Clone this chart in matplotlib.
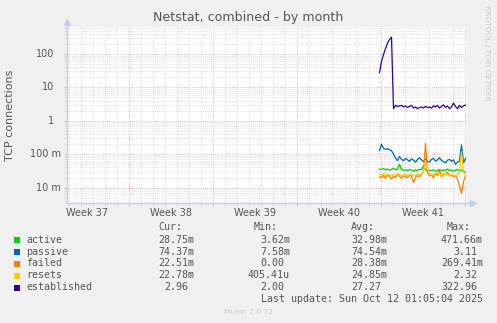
import numpy as np
from matplotlib import pyplot as plt
from matplotlib.patches import Rectangle
from matplotlib.ticker import LogLocator, FixedLocator, NullFormatter

W, H = 497, 323

# time axis: days relative to the Week 41 boundary, one sample every 4 hours
t_start = -0.125
t_step = 1 / 6

active = [0.036, 0.035, 0.037, 0.034, 0.036, 0.033, 0.035, 0.038, 0.034, 0.036, 0.05,
          0.035, 0.033, 0.034, 0.032, 0.035, 0.033, 0.031, 0.034, 0.032, 0.036, 0.034,
          0.045, 0.035, 0.031, 0.033, 0.032, 0.034, 0.031, 0.033, 0.035, 0.032, 0.034,
          0.033, 0.036, 0.032, 0.034, 0.031, 0.033, 0.035, 0.032, 0.034, 0.030, 0.029]
passive = [0.128, 0.20, 0.15, 0.14, 0.145, 0.135, 0.128, 0.10, 0.077, 0.064, 0.086,
           0.07, 0.064, 0.075, 0.068, 0.061, 0.073, 0.066, 0.058, 0.07, 0.078, 0.068,
           0.06, 0.072, 0.061, 0.058, 0.07, 0.075, 0.062, 0.068, 0.078, 0.065, 0.06,
           0.055, 0.066, 0.07, 0.061, 0.068, 0.05, 0.058, 0.062, 0.19, 0.055, 0.074]
failed = [0.021, 0.02, 0.023, 0.019, 0.024, 0.021, 0.018, 0.022, 0.02, 0.025, 0.022,
          0.019, 0.023, 0.021, 0.02, 0.024, 0.022, 0.014, 0.02, 0.023, 0.021, 0.025,
          0.03, 0.21, 0.028, 0.022, 0.024, 0.02, 0.027, 0.023, 0.034, 0.021, 0.026,
          0.024, 0.029, 0.022, 0.025, 0.021, 0.023, 0.018, 0.011, 0.0068, 0.015, 0.0225]
resets = [0.025, 0.024, 0.026, 0.023, 0.025, 0.024, 0.022, 0.025, 0.024, 0.026, 0.025,
          0.023, 0.024, 0.025, 0.023, 0.024, 0.026, 0.022, 0.023, 0.025, 0.024, 0.026,
          0.028, 0.06, 0.04, 0.027, 0.025, 0.024, 0.026, 0.028, 0.025, 0.024, 0.026,
          0.025, 0.024, 0.023, 0.025, 0.024, 0.023, 0.024, 0.03, 0.12, 0.03, 0.0228]
established = [27.5, 60, 95, 145, 210, 270, 316, 2.3, 2.9, 2.7, 2.8, 2.9, 2.6, 2.8,
               2.5, 2.7, 2.9, 2.4, 2.6, 2.3, 2.5, 2.6, 2.4, 2.7, 2.5, 2.6, 2.4, 2.8,
               2.6, 2.9, 2.4, 2.7, 3.0, 2.5, 2.8, 2.3, 2.6, 3.4, 2.7, 2.3, 2.9, 2.5,
               2.8, 2.96]

names = ["active", "passive", "failed", "resets", "established"]
colors = ["#00CC00", "#0066B3", "#FF8000", "#FFCC00", "#330099"]
cur = ["28.75m", "74.37m", "22.51m", "22.78m", "2.96"]
mins = ["3.62m", "7.58m", "0.00", "405.41u", "2.00"]
avgs = ["32.98m", "74.54m", "28.38m", "24.85m", "27.27"]
maxs = ["471.66m", "3.11", "269.41m", "2.32", "322.96"]

week_bounds = [-28, -21, -14, -7, 0, 7]
week_labels = ["Week 37", "Week 38", "Week 39", "Week 40", "Week 41"]
ytick_vals = [100, 10, 1, 0.1, 0.01]
ytick_labels = ["100", "10", "1", "100 m", "10 m"]

TXT = "#555555"


def px(x, y):
    return x / W, 1 - y / H


def main():
    fig = plt.figure(figsize=(W / 100, H / 100), dpi=100, facecolor="#F0F0F0")
    left, right, top, bottom = 66.5, 467, 27, 203
    ax = fig.add_axes([left / W, 1 - bottom / H, (right - left) / W, (bottom - top) / H])
    ax.set_facecolor("white")

    series = [active, passive, failed, resets, established]
    for vals, c in zip(series, colors):
        t = t_start + t_step * np.arange(len(vals))
        ax.plot(t, vals, color=c, lw=0.9, zorder=3)

    ax.set_yscale("log")
    ax.set_ylim(10 ** -2.461, 10 ** 2.808)
    ax.set_xlim((left - 381) / 12, (right - 381) / 12)

    ax.yaxis.set_major_locator(FixedLocator([0.01, 0.1, 1, 10, 100]))
    ax.yaxis.set_minor_locator(LogLocator(base=10, subs=range(2, 10), numticks=20))
    ax.xaxis.set_major_locator(FixedLocator(week_bounds))
    ax.xaxis.set_minor_locator(FixedLocator(range(-26, 8)))
    ax.xaxis.set_major_formatter(NullFormatter())
    ax.yaxis.set_major_formatter(NullFormatter())
    ax.yaxis.set_minor_formatter(NullFormatter())

    ax.grid(which="minor", color="#d6d6d6", linestyle=(0, (1, 1.5)), lw=0.6)
    ax.grid(which="major", color="#e8a4a4", linestyle=(0, (1, 1.5)), lw=0.6)
    ax.set_axisbelow(True)
    ax.tick_params(which="both", length=2, width=0.6, direction="out")
    ax.tick_params(which="major", color="#e8a4a4")
    ax.tick_params(which="minor", color="#d6d6d6")

    axc = "#c4ccf4"
    for s in ["top", "right"]:
        ax.spines[s].set_visible(False)
    for s in ["left", "bottom"]:
        ax.spines[s].set_color(axc)
        ax.spines[s].set_linewidth(1.0)
    ax.plot([0, 0], [1, 1.025], transform=ax.transAxes, color=axc, lw=1, clip_on=False)
    ax.plot([1, 1.012], [0, 0], transform=ax.transAxes, color=axc, lw=1, clip_on=False)
    ax.plot([0], [1.03], marker="^", ms=4, color=axc, transform=ax.transAxes, clip_on=False)
    ax.plot([1.015], [0], marker=">", ms=4, color=axc, transform=ax.transAxes, clip_on=False)

    # axis labels
    for lab, a, b in zip(week_labels, week_bounds[:-1], week_bounds[1:]):
        ax.text((a + b) / 2, -0.055, lab, transform=ax.get_xaxis_transform(),
                ha="center", va="center", fontsize=7, color=TXT)
    for v, lab in zip(ytick_vals, ytick_labels):
        xr = (54 if lab[-1] != "m" else 60.5) - left
        ax.text(xr / (right - left), v, lab, transform=ax.get_yaxis_transform(),
                ha="right", va="center", fontsize=7, color=TXT)

    fig.text(*px(248, 18), "Netstat, combined - by month", ha="center", va="center",
             fontsize=9.1, color=TXT)
    fig.text(*px(10, 115), "TCP connections", rotation=90, ha="center", va="center",
             fontsize=8, color=TXT)
    fig.text(*px(487, 53), "RRDTOOL / TOBI OETIKER", rotation=-90, ha="center",
             va="center", fontsize=5.4, color="#cccccc")

    # legend table
    mono = "DejaVu Sans Mono"
    fs = 7.2
    cw = 6.0
    col_ends = [194, 290, 387, 483]
    for h, xe in zip(["Cur:", "Min:", "Avg:", "Max:"], col_ends):
        fig.text(*px(xe - 2 * cw, 227.3), h, ha="right", va="center",
                 family=mono, fontsize=fs, color=TXT)
    rows_y = [239.7, 251.7, 263.5, 275.5, 287.5]
    for i, (n, c, y) in enumerate(zip(names, colors, rows_y)):
        fig.add_artist(Rectangle(px(14, y + 3), 6 / W, 6 / H, transform=fig.transFigure,
                                 facecolor=c, edgecolor="none"))
        fig.text(*px(26, y), n, ha="left", va="center", family=mono, fontsize=fs, color=TXT)
        for col, xe in zip([cur, mins, avgs, maxs], col_ends):
            s = col[i]
            shift = 0 if s[-1].isalpha() else cw
            fig.text(*px(xe - shift, y), s, ha="right", va="center",
                     family=mono, fontsize=fs, color=TXT)
    fig.text(*px(483, 299.5), "Last update: Sun Oct 12 01:05:04 2025", ha="right",
             va="center", family=mono, fontsize=fs, color=TXT)
    fig.text(*px(248, 312), "Munin 2.0.72", ha="center", va="center", fontsize=5.4,
             color="#cccccc")

    fig.savefig("out.png", dpi=100, facecolor=fig.get_facecolor())


if __name__ == '__main__':
    main()
